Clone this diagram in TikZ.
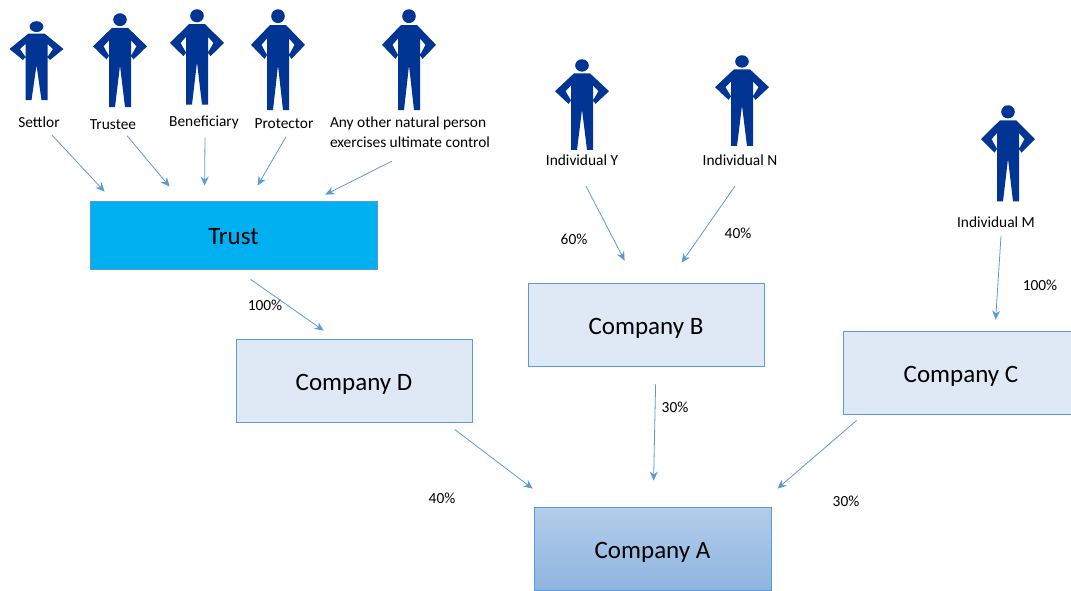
\documentclass[tikz,border=0pt]{standalone}
\usepackage{fontspec}
\setmainfont{Carlito}
\usetikzlibrary{arrows.meta}
\definecolor{linkblue}{HTML}{5B9BD5}
\definecolor{manblue}{HTML}{003594}
\definecolor{boxblue}{HTML}{DEE9F5}
\tikzset{
	link/.style={linkblue, line width=0.8pt, -{Stealth[length=9pt, width=8pt]}},
	box/.style={draw=linkblue, line width=0.8pt, inner sep=0pt, text height=21pt, text depth=2pt, font=\fontsize{25}{30}\selectfont},
	company/.style={box, fill=boxblue, minimum width=236pt, minimum height=83pt},
	label/.style={inner sep=0pt, font=\fontsize{15.4}{20}\selectfont, align=left},
	man/.pic={
		\fill[manblue] (0,5.6) ellipse [x radius=6.8, y radius=5.4];
		\fill[manblue] (-8,12.5) -- (8,12.5) -- (27,28) -- (13.5,39) -- (11,36) -- (16.5,28) -- (11,23)
			-- (11,79) -- (5,79) -- (0,44) -- (-5,79) -- (-11,79) -- (-11,23) -- (-16.5,28) -- (-11,36) -- (-13.5,39) -- (-27,28) -- cycle;
	}
}
\begin{document}
\begin{tikzpicture}[x=1pt, y=-1pt]
	\useasboundingbox (0,0) rectangle (1071,590);
	% boxes
	\node[box, fill={rgb,255:red,0;green,176;blue,240}, minimum width=287pt, minimum height=68pt] (trust) at (233.5,235) {Trust};
	\node[company] (company_d) at (354,380.5) {Company D};
	\node[company] (company_b) at (646,324.5) {Company B};
	\node[company] (company_c) at (961,372.5) {Company C};
	\node[company, minimum width=237pt, top color={rgb,255:red,178;green,205;blue,234}, bottom color={rgb,255:red,143;green,181;blue,225}] (company_a) at (652.5,548.5) {Company A};
	% people
	\pic at (36.5,21) {man};
	\pic[yscale=1.19] at (120,13) {man};
	\pic[yscale=1.21] at (197,9) {man};
	\pic[yscale=1.28] at (278,9) {man};
	\pic[yscale=1.28] at (409,9) {man};
	\pic[yscale=1.15] at (582,59) {man};
	\pic[yscale=1.15] at (742,55) {man};
	\pic[yscale=1.22] at (1008,105) {man};
	% names
	\node[label] (settlor) at (39,122.5) {Settlor};
	\node[label] (trustee) at (113,124.5) {Trustee};
	\node[label] (beneficiary) at (204,122.5) {Beneficiary};
	\node[label] (protector) at (284,123.5) {Protector};
	\node[label] (other) at (410,132.5) {Any other natural person\\exercises ultimate control};
	\node[label] (ind_y) at (582,160.5) {Individual Y};
	\node[label] (ind_n) at (740,160.5) {Individual N};
	\node[label] (ind_m) at (996,222.5) {Individual M};
	% shares
	\node[label] (y_share) at (574,239.5) {60\%};
	\node[label] (n_share) at (738,233.5) {40\%};
	\node[label] (m_share) at (1040,285.5) {100\%};
	\node[label] (trust_share) at (265,305.5) {100\%};
	\node[label] (b_share) at (675,407.5) {30\%};
	\node[label] (d_share) at (442,498.5) {40\%};
	\node[label] (c_share) at (846,501.5) {30\%};
	% links
	\draw[link] ([shift={(13,7)}]settlor.south) -- ([shift={(15,-9)}]trust.north west);
	\draw[link] ([shift={(14,6)}]trustee.south) -- ([shift={(80,-14)}]trust.north west);
	\draw[link] ([shift={(1,8)}]beneficiary.south) -- ([shift={(115,-15)}]trust.north west);
	\draw[link] ([shift={(2,8)}]protector.south) -- ([shift={(168,-15)}]trust.north west);
	\draw[link] ([shift={(-18,13)}]other.south) -- ([shift={(-52,-6)}]trust.north east);
	\draw[link] ([shift={(4,20)}]ind_y.south) -- ([shift={(97,-22)}]company_b.north west);
	\draw[link] ([shift={(-5,20)}]ind_n.south) -- ([shift={(154,-20)}]company_b.north west);
	\draw[link] ([shift={(5,8)}]ind_m.south) -- ([shift={(153,-11)}]company_c.north west);
	\draw[link] ([shift={(161,10)}]trust.south west) -- ([shift={(88,-8)}]company_d.north west);
	\draw[link] ([shift={(219,7)}]company_d.south west) -- ([shift={(-1,-18)}]company_a.north west);
	\draw[link] ([shift={(128,18)}]company_b.south west) -- ([shift={(120,-26)}]company_a.north west);
	\draw[link] ([shift={(14,6)}]company_c.south west) -- ([shift={(6,-18)}]company_a.north east);
\end{tikzpicture}
\end{document}
